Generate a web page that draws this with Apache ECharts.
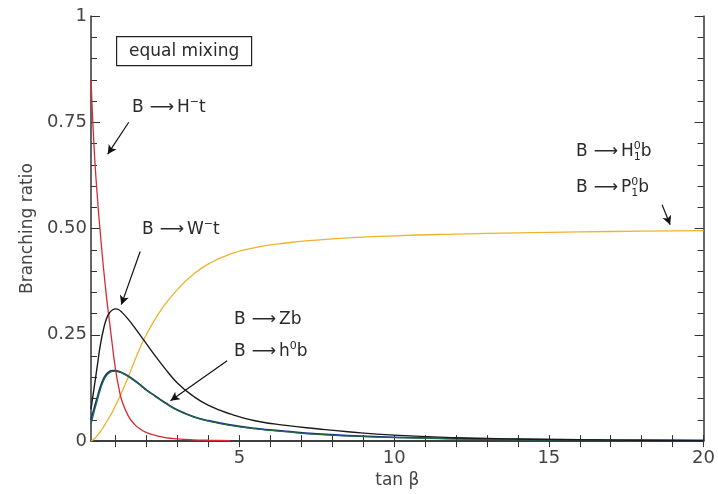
<!DOCTYPE html>
<html>
<head>
<meta charset="utf-8">
<script src="https://cdn.jsdelivr.net/npm/echarts@6/dist/echarts.min.js"></script>
<style>
  html, body { margin: 0; padding: 0; background: #fff; }
  #chart { width: 718px; height: 494px; }
</style>
</head>
<body>
<div id="chart"></div>
<script>
// tan beta sample points
var tanBeta = [0.2,0.3,0.4,0.5,0.6,0.7,0.8,0.9,1.0,1.1,1.2,1.4,1.6,1.8,2.0,2.3,2.6,3.0,3.5,4.0,4.7,5.5,6.5,7.5,8.5,10,12,14,16,18,20];

// branching ratios
var brHt = [0.85,0.69,0.58,0.49,0.41,0.34,0.28,0.22,0.165,0.125,0.095,0.06,0.04,0.028,0.02,0.013,0.008,0.005,0.003,0.002,0.001,null,null,null,null,null,null,null,null,null,null];
var brWt = [0.075,0.125,0.175,0.225,0.262,0.288,0.302,0.309,0.311,0.309,0.303,0.287,0.268,0.248,0.228,0.198,0.17,0.136,0.106,0.084,0.064,0.048,0.037,0.029,0.022,0.014,0.008,0.005,0.003,0.002,0.0015];
var brZb = [0.05,0.077,0.102,0.127,0.146,0.158,0.164,0.166,0.166,0.164,0.161,0.153,0.143,0.132,0.12,0.105,0.09,0.073,0.058,0.048,0.038,0.03,0.023,0.017,0.013,0.009,0.006,0.004,0.003,0.002,0.001];
var brh0b = [0.04,0.068,0.095,0.12,0.141,0.154,0.161,0.164,0.164,0.163,0.16,0.152,0.142,0.131,0.119,0.104,0.089,0.072,0.057,0.047,0.037,0.029,0.022,0.016,0.012,0.008,0.005,0.003,0.002,0.0015,0.001];
var brH1b = [0,0.005,0.013,0.022,0.033,0.045,0.057,0.07,0.085,0.1,0.116,0.15,0.187,0.222,0.252,0.29,0.322,0.357,0.392,0.417,0.44,0.455,0.466,0.473,0.478,0.483,0.487,0.49,0.492,0.494,0.495];

// axis ticks and labels
var xTicks = [1,2,3,4,5,6,7,8,9,10,11,12,13,14,15,16,17,18,19,20];
var xTickLabels = [5,10,15,20];
var yTickLabels = ['0','0.25','0.50','0.75','1'];

// annotation arrows [from, to] in data coordinates
var arrows = [
  [[1.42,0.75],[0.74,0.675]],
  [[1.79,0.446],[1.18,0.321]],
  [[4.6,0.189],[2.77,0.095]],
  [[18.66,0.556],[18.92,0.509]]
];

function pairs(ys){
  var out = [];
  for (var i = 0; i < tanBeta.length; i++) {
    if (ys[i] != null) out.push([tanBeta[i], ys[i]]);
  }
  return out;
}

var FONT = 'DejaVu Sans';
var axisCol = '#333';
var textCol = '#444';

var chart = echarts.init(document.getElementById('chart'));

var richStyle = {
  m: { fontFamily: FONT, fontSize: 17, color: '#2a2a2a', lineHeight: 22, verticalAlign: 'middle' },
  ar: { fontFamily: FONT, fontSize: 17, color: '#2a2a2a', lineHeight: 22, verticalAlign: 'middle', padding: [0,3,0,6] },
  sup: { fontFamily: FONT, fontSize: 11, color: '#2a2a2a', lineHeight: 11, verticalAlign: 'top' },
  sub: { fontFamily: FONT, fontSize: 11, color: '#2a2a2a', lineHeight: 11, verticalAlign: 'bottom', width: 0 }
};

function label(x, y, txt){
  return {
    type: 'text', left: x, top: y, z: 100,
    style: { text: txt, rich: richStyle, fill: '#2a2a2a' }
  };
}

var yLabelMap = {0: yTickLabels[0], 0.25: yTickLabels[1], 0.5: yTickLabels[2], 0.75: yTickLabels[3], 1: yTickLabels[4]};

var commonLine = { type: 'line', smooth: 0.5, showSymbol: false, symbol: 'none' };

var option = {
  animation: false,
  backgroundColor: '#fff',
  grid: { left: 91, right: 14, top: 16, bottom: 50, containLabel: false },
  xAxis: [{
    type: 'value', min: 0.2, max: 20, position: 'bottom',
    name: 'tan β', nameLocation: 'middle', nameGap: 30,
    nameTextStyle: { fontFamily: FONT, fontSize: 17, color: textCol },
    axisLine: { show: true, lineStyle: { color: axisCol, width: 1.5 } },
    axisTick: { show: true, inside: true, length: 6, customValues: xTicks, lineStyle: { color: axisCol } },
    axisLabel: { show: true, customValues: xTickLabels, margin: 8, fontFamily: FONT, fontSize: 18, color: textCol },
    splitLine: { show: false }
  }, {
    type: 'value', min: 0.2, max: 20, position: 'top',
    axisLine: { show: true, lineStyle: { color: axisCol, width: 1.5 } },
    axisTick: { show: true, inside: true, length: 6, customValues: xTicks, lineStyle: { color: axisCol } },
    axisLabel: { show: false },
    splitLine: { show: false }
  }],
  yAxis: [{
    type: 'value', min: 0, max: 1, interval: 0.25, position: 'left',
    name: 'Branching ratio', nameLocation: 'middle', nameGap: 54,
    nameTextStyle: { fontFamily: FONT, fontSize: 17, color: textCol },
    axisLine: { show: true, lineStyle: { color: axisCol, width: 1.5 } },
    axisTick: { show: true, inside: true, length: 9, lineStyle: { color: axisCol } },
    minorTick: { show: true, splitNumber: 5, length: 6, lineStyle: { color: axisCol } },
    axisLabel: { margin: 4, fontFamily: FONT, fontSize: 18, color: textCol,
      formatter: function(v){ return yLabelMap[v]; } },
    splitLine: { show: false }
  }, {
    type: 'value', min: 0, max: 1, interval: 0.25, position: 'right',
    axisLine: { show: true, lineStyle: { color: axisCol, width: 1.5 } },
    axisTick: { show: true, inside: true, length: 9, lineStyle: { color: axisCol } },
    minorTick: { show: true, splitNumber: 5, length: 6, lineStyle: { color: axisCol } },
    axisLabel: { show: false },
    splitLine: { show: false }
  }],
  series: [
    Object.assign({}, commonLine, { name: 'B → H1 b', data: pairs(brH1b), color: '#efb22e', lineStyle: { width: 1.3, color: '#efb22e' } }),
    Object.assign({}, commonLine, { name: 'B → Zb', data: pairs(brZb), color: '#1b2f8c', lineStyle: { width: 1.7, color: '#1b2f8c' } }),
    Object.assign({}, commonLine, { name: 'B → h0b', data: pairs(brh0b), color: '#1f6b3a', lineStyle: { width: 1.2, color: '#1f6b3a' } }),
    Object.assign({}, commonLine, { name: 'B → H-t', data: pairs(brHt), color: '#d62a2f', lineStyle: { width: 1.3, color: '#d62a2f' } }),
    Object.assign({}, commonLine, { name: 'B → W-t', data: pairs(brWt), color: '#1a1a1a', lineStyle: { width: 1.4, color: '#1a1a1a' },
      markLine: {
        silent: true, animation: false,
        symbol: ['none', 'arrow'], symbolSize: [7, 9],
        label: { show: false },
        lineStyle: { color: '#111', width: 1.2, type: 'solid' },
        data: arrows.map(function(a){ return [{ coord: a[0] }, { coord: a[1] }]; })
      }
    })
  ],
  graphic: [
    {
      type: 'group', left: 116, top: 36, z: 100,
      children: [
        { type: 'rect', shape: { x: 0, y: 0, width: 135, height: 29 }, style: { fill: '#fff', stroke: '#222', lineWidth: 1.2 } },
        { type: 'text', x: 67.5, y: 14.5, style: { text: 'equal mixing', fontFamily: FONT, fontSize: 17, fill: '#2a2a2a', align: 'center', verticalAlign: 'middle' } }
      ]
    },
    label(132, 97, '{m|B}{ar|⟶}{m|H}{sup|−}{m|t}'),
    label(142, 219, '{m|B}{ar|⟶}{m|W}{sup|−}{m|t}'),
    label(234, 311, '{m|B}{ar|⟶}{m|Zb}'),
    label(234, 341, '{m|B}{ar|⟶}{m|h}{sup|0}{m|b}'),
    label(576, 141, '{m|B}{ar|⟶}{m|H}{sub|1}{sup|0}{m|b}'),
    label(576, 177, '{m|B}{ar|⟶}{m|P}{sub|1}{sup|0}{m|b}')
  ]
};

chart.setOption(option);
</script>
</body>
</html>
